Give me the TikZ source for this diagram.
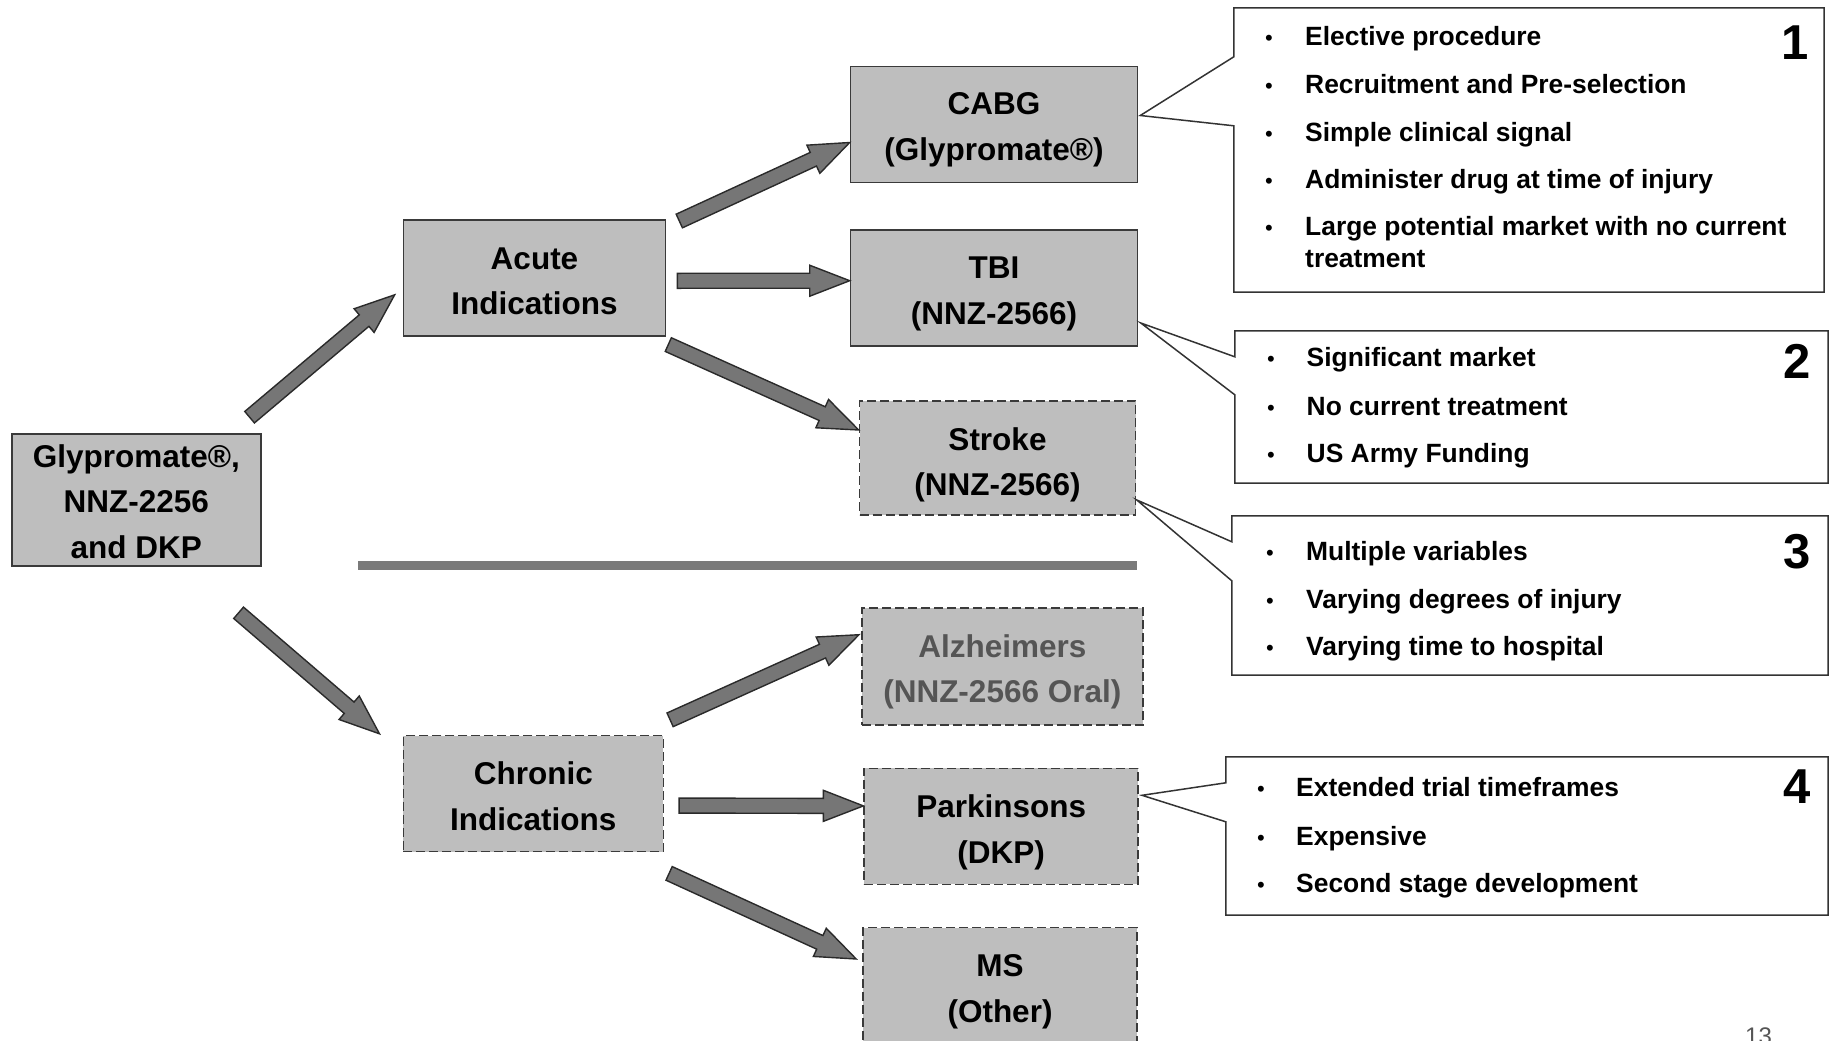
\documentclass[tikz,border=0pt]{standalone}
\usepackage{fontspec}
\setmainfont{Liberation Sans}
\usetikzlibrary{calc}
\definecolor{boxfill}{HTML}{BEBEBE}
\definecolor{boxline}{HTML}{3A3A3A}
\definecolor{arrfill}{HTML}{767676}
\definecolor{arrline}{HTML}{2A2A2A}
\definecolor{barfill}{HTML}{7A7A7A}
\definecolor{callline}{HTML}{333333}
\definecolor{greytext}{HTML}{555555}
\newcommand\blockarrow[2]{%
  \coordinate (bas) at #1;
  \coordinate (bae) at #2;
  \pgfmathanglebetweenpoints{\pgfpointanchor{bas}{center}}{\pgfpointanchor{bae}{center}}%
  \edef\baang{\pgfmathresult}%
  \pgfpointdiff{\pgfpointanchor{bas}{center}}{\pgfpointanchor{bae}{center}}%
  \pgfgetlastxy{\badx}{\bady}%
  \pgfmathsetmacro\balen{veclen(\badx,\bady)}%
  \begin{scope}[shift={(bas)},rotate=\baang]
    \draw[blockarr] (0pt,-7.5pt) -- ({\balen pt-40pt},-7.5pt) -- ({\balen pt-40pt},-15.5pt)
      -- ({\balen pt},0pt) -- ({\balen pt-40pt},15.5pt) -- ({\balen pt-40pt},7.5pt) -- (0pt,7.5pt) -- cycle;
  \end{scope}}
\begin{document}
\begin{tikzpicture}[x=1pt,y=-1pt,
  box/.style={draw=boxline, line width=1.6pt, fill=boxfill, inner sep=0pt},
  dbox/.style={box, dash pattern=on 9pt off 4pt},
  boxtext/.style={inner sep=0pt, align=center, font=\fontsize{31.5}{45.6}\selectfont\bfseries, text=black},
  blockarr/.style={draw=arrline, line width=1.4pt, fill=arrfill, line join=miter},
  callbox/.style={draw=none, fill=white, inner sep=0pt},
  callline/.style={draw=callline, line width=1.5pt, fill=white, line join=miter},
  item/.style={anchor=base west, inner sep=0pt, align=left,
    font=\fontsize{26.4}{32}\selectfont\bfseries},
  bul/.style={anchor=base, inner sep=0pt, font=\fontsize{22}{24}\selectfont},
  num/.style={inner sep=0pt, font=\fontsize{49}{49}\selectfont\bfseries}]
\useasboundingbox (0,0) rectangle (1834,1041);

% main boxes
\node[box, minimum width=249pt, minimum height=132pt] (glyp) at (136.3,500) {};
\node[boxtext] (glyp-t) at ($(glyp.center)+(0,1.5)$) {Glypromate®,\\NNZ-2256\\and DKP};
\node[box, minimum width=262pt, minimum height=116pt] (acute) at (534.5,277.8) {};
\node[boxtext] (acute-t) at ($(acute.center)+(0,3.5)$) {Acute\\Indications};
\node[dbox, minimum width=260pt, minimum height=116pt] (chronic) at (533.3,793.6) {};
\node[boxtext] (chronic-t) at ($(chronic.center)+(0,2.5)$) {Chronic\\Indications};
\node[box, minimum width=287pt, minimum height=116pt] (cabg) at (994,124.5) {};
\node[boxtext] (cabg-t) at ($(cabg.center)+(0,5)$) {CABG\\(Glypromate®)};
\node[box, minimum width=287pt, minimum height=116pt] (tbi) at (994,288) {};
\node[boxtext] (tbi-t) at ($(tbi.center)+(0,6)$) {TBI\\(NNZ-2566)};
\node[dbox, minimum width=276pt, minimum height=114pt] (stroke) at (997.5,458) {};
\node[boxtext] (stroke-t) at ($(stroke.center)+(0,7)$) {Stroke\\(NNZ-2566)};
\node[dbox, minimum width=281pt, minimum height=117pt] (alz) at (1002.3,666.7) {};
\node[boxtext, text=greytext] (alz-t) at ($(alz.center)+(0,5)$) {Alzheimers\\(NNZ-2566 Oral)};
\node[dbox, minimum width=274pt, minimum height=116pt] (park) at (1001.2,826.3) {};
\node[boxtext] (park-t) at ($(park.center)+(0,6)$) {Parkinsons\\(DKP)};
\node[dbox, minimum width=274pt, minimum height=116pt] (ms) at (1000,985.5) {};
\node[boxtext] (ms-t) at ($(ms.center)+(0,6)$) {MS\\(Other)};

% separator bar
\fill[barfill] (358,560.5) rectangle (1137,569.5);

% block arrows
\blockarrow{($(glyp.north east)+(-12,-16)$)}{($(acute.west)+(-8,17)$)}
\blockarrow{($(glyp.south east)+(-23,46)$)}{($(chronic.north west)+(-23,-1)$)}
\blockarrow{($(acute.north east)+(13,2)$)}{($(cabg.west)+(0,18)$)}
\blockarrow{($(acute.east)+(11,3)$)}{($(tbi.west)+(0,-7.3)$)}
\blockarrow{($(acute.south east)+(2,8)$)}{($(stroke.west)+(0,-28)$)}
\blockarrow{($(chronic.north east)+(6,-15)$)}{($(alz.west)+(-2,-32)$)}
\blockarrow{($(chronic.east)+(15,12)$)}{($(park.west)+(0,-20.4)$)}
\blockarrow{($(chronic.south east)+(5,21)$)}{($(ms.west)+(-6,-26.5)$)}

% callout 1
\node[callbox, minimum width=590pt, minimum height=284pt] (c1) at (1529,150) {};
\draw[callline] ($(c1.north west)+(0,49)$) -- (c1.north west) -- (c1.north east) -- (c1.south east)
  -- (c1.south west) -- ($(c1.north west)+(0,118)$) -- ($(cabg.east)+(2,-9)$) -- cycle;
\node[num] (n1) at (1795,43) {1};
\node[bul] (b11) at (1269,46) {•};
\node[item] (t11) at (1305,46) {Elective procedure};
\node[bul] (b12) at (1269,93) {•};
\node[item] (t12) at (1305,93) {Recruitment and Pre-selection};
\node[bul] (b13) at (1269,141) {•};
\node[item] (t13) at (1305,141) {Simple clinical signal};
\node[bul] (b14) at (1269,188) {•};
\node[item] (t14) at (1305,188) {Administer drug at time of injury};
\node[bul] (b15) at (1269,235) {•};
\node[item] (t15) at (1305,267) {Large potential market with no current\\treatment};

% callout 2
\node[callbox, minimum width=593pt, minimum height=152pt] (c2) at (1531.5,407) {};
\draw[callline] ($(c2.north west)+(0,26)$) -- (c2.north west) -- (c2.north east) -- (c2.south east)
  -- (c2.south west) -- ($(c2.north west)+(0,64)$) -- ($(tbi.east)+(2.5,35)$) -- cycle;
\node[num] (n2) at (1797,361) {2};
\node[bul] (b21) at (1271,366) {•};
\node[item] (t21) at (1306.5,366) {Significant market};
\node[bul] (b22) at (1271,415) {•};
\node[item] (t22) at (1306.5,415) {No current treatment};
\node[bul] (b23) at (1271,462) {•};
\node[item] (t23) at (1306.5,462) {US Army Funding};

% callout 3
\node[callbox, minimum width=596pt, minimum height=159pt] (c3) at (1530,595.5) {};
\draw[callline] ($(c3.north west)+(0,26)$) -- (c3.north west) -- (c3.north east) -- (c3.south east)
  -- (c3.south west) -- ($(c3.north west)+(0,65)$) -- ($(stroke.east)+(0.5,42)$) -- cycle;
\node[num] (n3) at (1797,552) {3};
\node[bul] (b31) at (1270,560) {•};
\node[item] (t31) at (1306,560) {Multiple variables};
\node[bul] (b32) at (1270,608) {•};
\node[item] (t32) at (1306,608) {Varying degrees of injury};
\node[bul] (b33) at (1270,655) {•};
\node[item] (t33) at (1306,655) {Varying time to hospital};

% callout 4
\node[callbox, minimum width=602pt, minimum height=158pt] (c4) at (1527,836) {};
\draw[callline] ($(c4.north west)+(0,26)$) -- (c4.north west) -- (c4.north east) -- (c4.south east)
  -- (c4.south west) -- ($(c4.north west)+(0,65)$) -- ($(park.east)+(3,-31)$) -- cycle;
\node[num] (n4) at (1797,787) {4};
\node[bul] (b41) at (1261,796) {•};
\node[item] (t41) at (1296,796) {Extended trial timeframes};
\node[bul] (b42) at (1261,845) {•};
\node[item] (t42) at (1296,845) {Expensive};
\node[bul] (b43) at (1261,892) {•};
\node[item] (t43) at (1296,892) {Second stage development};

% page number
\node[anchor=base west, inner sep=0pt, text=greytext, font=\fontsize{24}{24}\selectfont] (pg) at (1745,1044) {13};
\end{tikzpicture}
\end{document}
